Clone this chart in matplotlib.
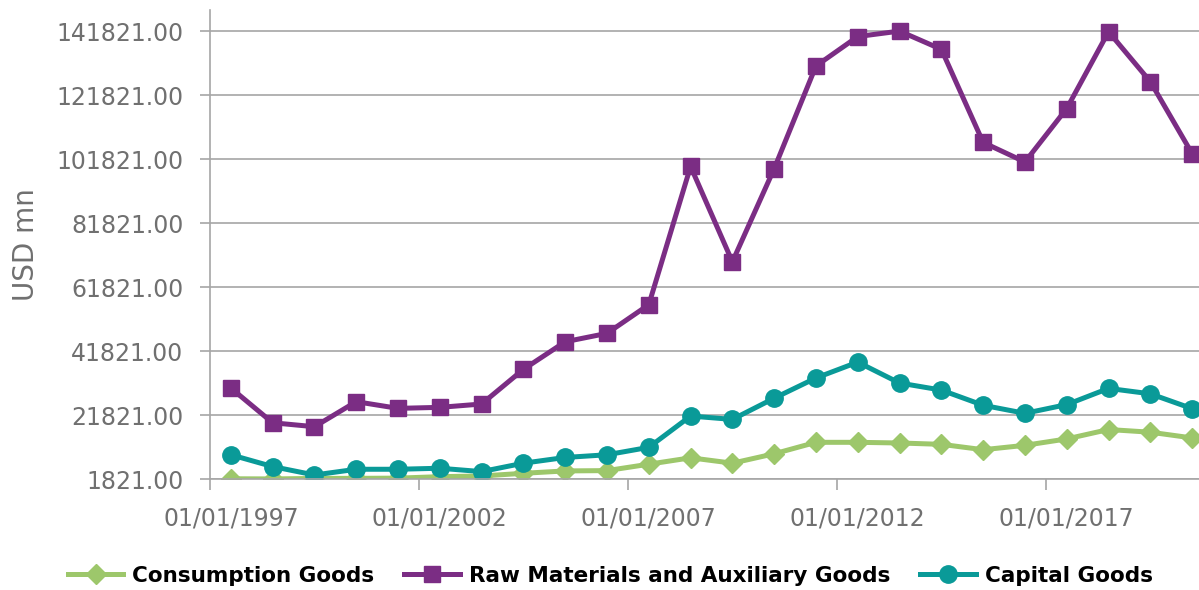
import matplotlib
matplotlib.use("Agg")
import matplotlib.pyplot as plt

# yearly values, USD mn
years = list(range(1997, 2021))
consumption = [1900, 1850, 2000, 2030, 2100, 2560, 2770, 3610, 4350, 4450, 6450, 8450,
               6770, 9710, 13290, 13290, 13080, 12660, 10980, 12350, 14350, 17290, 16450, 14660]
raw_materials = [30260, 19400, 18170, 25990, 23900, 24220, 25260, 36090, 44720, 47340, 56300, 99500,
                 69700, 98800, 130900, 140100, 141800, 136100, 107000, 100900, 117600, 141600, 126000, 103500]
capital = [9400, 5710, 3080, 4870, 4870, 5190, 4140, 6770, 8560, 9400, 11720, 21500,
           20450, 27080, 33400, 38350, 31820, 29610, 24870, 22350, 25080, 30140, 28450, 23820]

y_ticks = [1821 + 20000 * k for k in range(8)]

c_green = '#9dc76b'
c_purple = '#7b2d84'
c_teal = '#0a9a98'
c_text = '#707070'
c_grid = '#a6a6a6'

fig = plt.figure(figsize=(11.99, 5.90), dpi=100)
# the plot runs a little past the right edge, as in the original
ax = fig.add_axes([0.1751, 0.1881, 0.8366, 0.795])

x = list(range(len(years)))
ax.plot(x, consumption, color=c_green, lw=3.6, marker='D', ms=10, label='Consumption Goods')
ax.plot(x, raw_materials, color=c_purple, lw=3.6, marker='s', ms=12, label='Raw Materials and Auxiliary Goods')
ax.plot(x, capital, color=c_teal, lw=3.6, marker='o', ms=12.5, label='Capital Goods')

ax.set_xlim(-0.5, len(years) - 0.5)
ax.set_ylim(1821, 148400)

ax.set_yticks(y_ticks)
ax.set_yticklabels([f'{v:.2f}' for v in y_ticks])
ax.grid(axis='y', color=c_grid, lw=1.2)
ax.set_axisbelow(True)

# labels at category centres, tick marks on category borders (every 5 years)
ax.set_xticks([i for i in x if (years[i] - 1997) % 5 == 0])
ax.set_xticklabels([f'01/01/{years[i]}' for i in x if (years[i] - 1997) % 5 == 0])
ax.set_xticks([i - 0.5 for i in x if (years[i] - 1997) % 5 == 0], minor=True)
ax.tick_params(axis='x', which='major', length=0, pad=20, labelsize=17, labelcolor=c_text)
ax.tick_params(axis='x', which='minor', length=8, width=1.2, color=c_grid)
ax.tick_params(axis='y', length=7, width=1.2, color=c_grid, pad=12, labelsize=17, labelcolor=c_text)

for s in ['top', 'right']:
    ax.spines[s].set_visible(False)
for s in ['left', 'bottom']:
    ax.spines[s].set_color(c_grid)
    ax.spines[s].set_linewidth(1.2)

ax.set_ylabel('USD mn', fontsize=20, color=c_text, labelpad=12)

fig.legend(loc='center', bbox_to_anchor=(0.509, 0.024), ncol=3, frameon=False,
           prop={'weight': 'bold', 'size': 15.5}, handlelength=2.6, columnspacing=1.4,
           handletextpad=0.4, borderaxespad=0)

fig.savefig('out.png', dpi=100)
